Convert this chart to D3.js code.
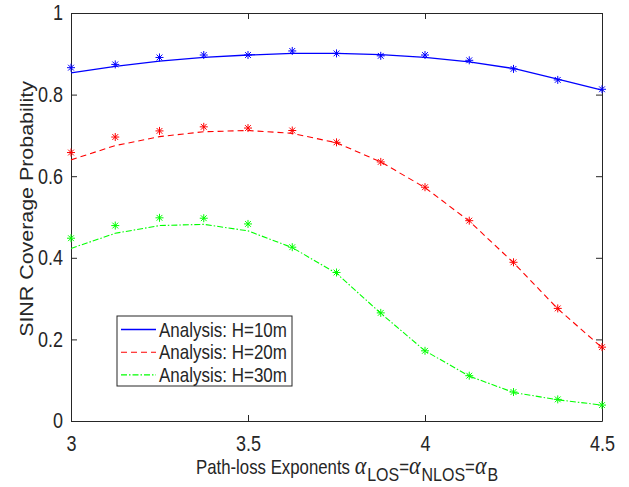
<!DOCTYPE html>
<html>
<head>
<meta charset="utf-8">
<script src="https://cdn.jsdelivr.net/npm/d3@7"></script>
<style>
  body { margin: 0; background: #fff; }
  text { font-family: "Liberation Sans", Arial, sans-serif; fill: #262626; }
</style>
</head>
<body>
<div class="container"></div>
<script>
// path-loss exponent values (x)
const alphas = [3, 3.125, 3.25, 3.375, 3.5, 3.625, 3.75, 3.875, 4, 4.125, 4.25, 4.375, 4.5];

// analysis curves
const analysisH10 = [0.853, 0.869, 0.882, 0.891, 0.897, 0.901, 0.901, 0.898, 0.891, 0.880, 0.864, 0.838, 0.811];
const analysisH20 = [0.640, 0.675, 0.697, 0.709, 0.712, 0.705, 0.682, 0.635, 0.572, 0.490, 0.388, 0.275, 0.180];
const analysisH30 = [0.423, 0.460, 0.479, 0.482, 0.466, 0.425, 0.362, 0.264, 0.172, 0.110, 0.070, 0.052, 0.039];

// simulation markers
const simH10 = [0.866, 0.874, 0.891, 0.897, 0.897, 0.907, 0.901, 0.895, 0.897, 0.884, 0.863, 0.836, 0.813];
const simH20 = [0.658, 0.696, 0.711, 0.721, 0.718, 0.712, 0.683, 0.635, 0.573, 0.491, 0.389, 0.276, 0.181];
const simH30 = [0.448, 0.479, 0.498, 0.497, 0.483, 0.426, 0.364, 0.265, 0.172, 0.111, 0.071, 0.053, 0.039];

const xTicks = [3, 3.5, 4, 4.5];
const yTicks = [0, 0.2, 0.4, 0.6, 0.8, 1];
const legendLabels = ["Analysis: H=10m", "Analysis: H=20m", "Analysis: H=30m"];

const width = 629, height = 487;
const pLeft = 71, pRight = 602, pTop = 13, pBottom = 421;
const stretch = 1.18; // text in the figure looks a bit taller than wide

const svg = d3.select(".container").append("svg")
  .attr("width", width).attr("height", height);

const x = d3.scaleLinear().domain([3, 4.5]).range([pLeft, pRight]);
const y = d3.scaleLinear().domain([0, 1]).range([pBottom, pTop]);

const series = [
  { line: analysisH10, sim: simH10, color: "#0000ff", dash: "none", lw: 1.3 },
  { line: analysisH20, sim: simH20, color: "#ff0000", dash: "6,4", lw: 1.1 },
  { line: analysisH30, sim: simH30, color: "#00ff00", dash: "6,2,1.5,2", lw: 1.1 }
];

// axes box with inward ticks
const tickLen = 6;
svg.append("g").attr("transform", `translate(0,${pBottom})`)
  .call(d3.axisBottom(x).tickValues(xTicks).tickSize(-tickLen).tickSizeOuter(0).tickPadding(12.5).tickFormat(d3.format("")))
  .call(g => g.selectAll("text").style("font-size", "18px").attr("transform", `scale(1,${stretch})`));
svg.append("g").attr("transform", `translate(0,${pTop})`)
  .call(d3.axisTop(x).tickValues(xTicks).tickSize(-tickLen).tickSizeOuter(0).tickFormat(""));
svg.append("g").attr("transform", `translate(${pLeft},0)`)
  .call(d3.axisLeft(y).tickValues(yTicks).tickSize(-tickLen).tickSizeOuter(0).tickPadding(8).tickFormat(d3.format("")))
  .call(g => g.selectAll("text").style("font-size", "18px").attr("transform", `scale(1,${stretch})`));
svg.append("g").attr("transform", `translate(${pRight},0)`)
  .call(d3.axisRight(y).tickValues(yTicks).tickSize(-tickLen).tickSizeOuter(0).tickFormat(""));
svg.selectAll(".domain, .tick line").attr("stroke", "#262626");

// curves
const line = d3.line().x((d, i) => x(alphas[i])).y(d => y(d));
series.forEach(s => {
  svg.append("path").datum(s.line)
    .attr("d", line)
    .attr("fill", "none")
    .attr("stroke", s.color)
    .attr("stroke-width", s.lw)
    .attr("stroke-dasharray", s.dash);
});

// asterisk markers
const r = 4, rd = 2.9;
series.forEach(s => {
  svg.append("g").selectAll("path").data(s.sim).join("path")
    .attr("transform", (d, i) => `translate(${x(alphas[i])},${y(d)})`)
    .attr("d", `M${-r},0H${r}M0,${-r}V${r}M${-rd},${-rd}L${rd},${rd}M${-rd},${rd}L${rd},${-rd}`)
    .attr("stroke", s.color)
    .attr("stroke-width", 1)
    .attr("fill", "none");
});

// axis labels
const xl = svg.append("g").attr("transform", "translate(196,474)")
  .append("text")
  .attr("transform", `scale(1,${stretch})`)
  .style("font-size", "16.8px");
xl.append("tspan").text("Path-loss Exponents ");
const subs = ["LOS", "NLOS", "B"];
subs.forEach((s, i) => {
  if (i > 0) xl.append("tspan").attr("dy", -6).text("=");
  xl.append("tspan")
    .style("font-family", "'Liberation Serif', 'Times New Roman', serif")
    .style("font-style", "italic").style("font-size", "22px").text("α");
  xl.append("tspan").attr("dy", 6).attr("dx", 1).style("font-size", "16px").text(s);
});

svg.append("text")
  .attr("transform", `translate(33,${(pTop + pBottom) / 2 - 8}) rotate(-90) scale(1.19,1)`)
  .attr("text-anchor", "middle")
  .style("font-size", "18px")
  .text("SINR Coverage Probability");

// legend
const lg = svg.append("g").attr("transform", "translate(117,316)");
lg.append("rect").attr("width", 175).attr("height", 70)
  .attr("fill", "#fff").attr("stroke", "#262626").attr("stroke-width", 1);
legendLabels.forEach((lab, i) => {
  const s = series[i];
  const yy = 13.5 + i * 22.7;
  lg.append("line").attr("x1", 4).attr("x2", 39).attr("y1", yy).attr("y2", yy)
    .attr("stroke", s.color).attr("stroke-width", s.lw).attr("stroke-dasharray", s.dash);
  lg.append("g").attr("transform", `translate(42,${yy})`)
    .append("text").attr("dy", "0.36em").attr("transform", `scale(1,${stretch})`)
    .style("font-size", "17px").text(lab);
});
</script>
</body>
</html>
